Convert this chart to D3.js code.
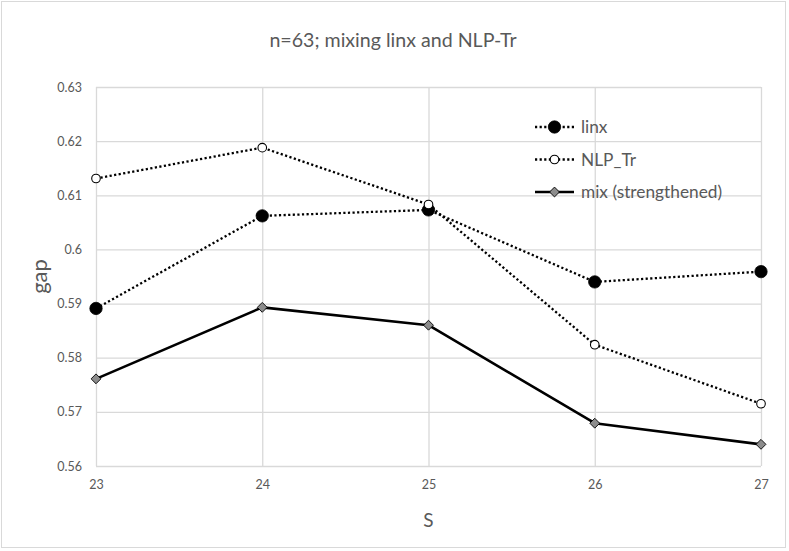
<!DOCTYPE html>
<html>
<head>
<meta charset="utf-8">
<script src="https://cdn.jsdelivr.net/npm/d3@7/dist/d3.min.js"></script>
<style>
  html, body { margin: 0; padding: 0; background: #fff; }
  svg { display: block; font-family: Lato, "Open Sans", sans-serif; }
</style>
</head>
<body>
<svg id="chart" width="789" height="551"></svg>
<script>
const categories = [23, 24, 25, 26, 27];
const linx = [0.5891, 0.6062, 0.6073, 0.5940, 0.5959];
const nlpTr = [0.6131, 0.6188, 0.6083, 0.5824, 0.5715];
const mix = [0.5761, 0.5893, 0.5860, 0.5679, 0.5640];
const yTicks = [0.56, 0.57, 0.58, 0.59, 0.6, 0.61, 0.62, 0.63];
const seriesNames = ["linx", "NLP_Tr", "mix (strengthened)"];
const title = "n=63; mixing linx and NLP-Tr";
const xTitle = "S";
const yTitle = "gap";

const svg = d3.select("#chart");
const m = { left: 96, right: 761, top: 87, bottom: 466 };
const textColor = "#595959";
const gridColor = "#d9d9d9";

// outer border
svg.append("rect").attr("x", 1.5).attr("y", 1.5).attr("width", 784).attr("height", 546)
  .attr("fill", "#fff").attr("stroke", gridColor).attr("stroke-width", 1);

const x = d3.scaleLinear().domain([23, 27]).range([m.left, m.right]);
const y = d3.scaleLinear().domain([0.56, 0.63]).range([m.bottom, m.top]);

// gridlines via axes
const yGrid = d3.axisLeft(y).tickValues(yTicks).tickSize(-(m.right - m.left)).tickFormat("");
svg.append("g").attr("transform", `translate(${m.left},0)`).call(yGrid)
  .call(g => g.select(".domain").remove())
  .call(g => g.selectAll("line").attr("stroke", gridColor).attr("stroke-width", 1.3));
const xGrid = d3.axisBottom(x).tickValues(categories).tickSize(-(m.bottom - m.top)).tickFormat("");
svg.append("g").attr("transform", `translate(0,${m.bottom})`).call(xGrid)
  .call(g => g.select(".domain").remove())
  .call(g => g.selectAll("line").attr("stroke", gridColor).attr("stroke-width", 1.3));

// tick labels
const yAxis = d3.axisLeft(y).tickValues(yTicks).tickSize(0).tickPadding(14)
  .tickFormat(d => d3.format("")(+d.toFixed(2)));
svg.append("g").attr("transform", `translate(${m.left},0)`).call(yAxis)
  .call(g => g.select(".domain").remove())
  .call(g => g.selectAll("text").attr("fill", textColor).style("font-size", "12.5px").style("font-family", "Lato, sans-serif"));
const xAxis = d3.axisBottom(x).tickValues(categories).tickSize(0).tickPadding(14).tickFormat(d3.format("d"));
svg.append("g").attr("transform", `translate(0,${m.bottom})`).call(xAxis)
  .call(g => g.select(".domain").remove())
  .call(g => g.selectAll("text").attr("fill", textColor).style("font-size", "12.5px").style("font-family", "Lato, sans-serif"));

// titles
svg.append("text").attr("x", 393).attr("y", 47).attr("text-anchor", "middle")
  .attr("fill", textColor).style("font-size", "19.6px").text(title);
svg.append("text").attr("x", (m.left + m.right) / 2).attr("y", 527).attr("text-anchor", "middle")
  .attr("fill", textColor).style("font-size", "19px").text(xTitle);
svg.append("text").attr("transform", `translate(47,${(m.top + m.bottom) / 2}) rotate(-90)`)
  .attr("text-anchor", "middle").attr("fill", textColor).style("font-size", "22px").text(yTitle);

const line = d3.line().x((d, i) => x(categories[i])).y(d => y(d));

const series = [
  { name: seriesNames[0], values: linx, dash: "2.2,2.4", width: 2.3, marker: "filled" },
  { name: seriesNames[1], values: nlpTr, dash: "2.2,2.4", width: 2.3, marker: "open" },
  { name: seriesNames[2], values: mix, dash: null, width: 2.6, marker: "diamond" }
];

function drawMarker(g, type, cx, cy) {
  if (type === "filled") {
    g.append("circle").attr("cx", cx).attr("cy", cy).attr("r", 6.2).attr("fill", "#000").attr("stroke", "#000").attr("stroke-width", 0.75);
  } else if (type === "open") {
    g.append("circle").attr("cx", cx).attr("cy", cy).attr("r", 4.3).attr("fill", "#fff").attr("stroke", "#000").attr("stroke-width", 1.1);
  } else {
    g.append("path").attr("d", d3.symbol(d3.symbolDiamond2, 62)())
      .attr("transform", `translate(${cx},${cy})`)
      .attr("fill", "#8c8c8c").attr("stroke", "#000").attr("stroke-width", 0.9);
  }
}

const plot = svg.append("g");
series.forEach(s => {
  plot.append("path").datum(s.values).attr("d", line)
    .attr("fill", "none").attr("stroke", "#000").attr("stroke-width", s.width)
    .attr("stroke-dasharray", s.dash).attr("stroke-linejoin", "round");
});
series.forEach(s => {
  const g = plot.append("g");
  s.values.forEach((v, i) => drawMarker(g, s.marker, x(categories[i]), y(v)));
});

// legend
const legendY = [127, 159.5, 192];
series.forEach((s, i) => {
  const g = svg.append("g");
  const ly = legendY[i];
  g.append("line").attr("x1", 535).attr("x2", 574).attr("y1", ly).attr("y2", ly)
    .attr("stroke", "#000").attr("stroke-width", s.width).attr("stroke-dasharray", s.dash);
  drawMarker(g, s.marker, 554.5, ly);
  g.append("text").attr("x", 581).attr("y", ly).attr("dy", "0.35em")
    .attr("fill", textColor).style("font-size", "17.3px").text(s.name);
});
</script>
</body>
</html>
